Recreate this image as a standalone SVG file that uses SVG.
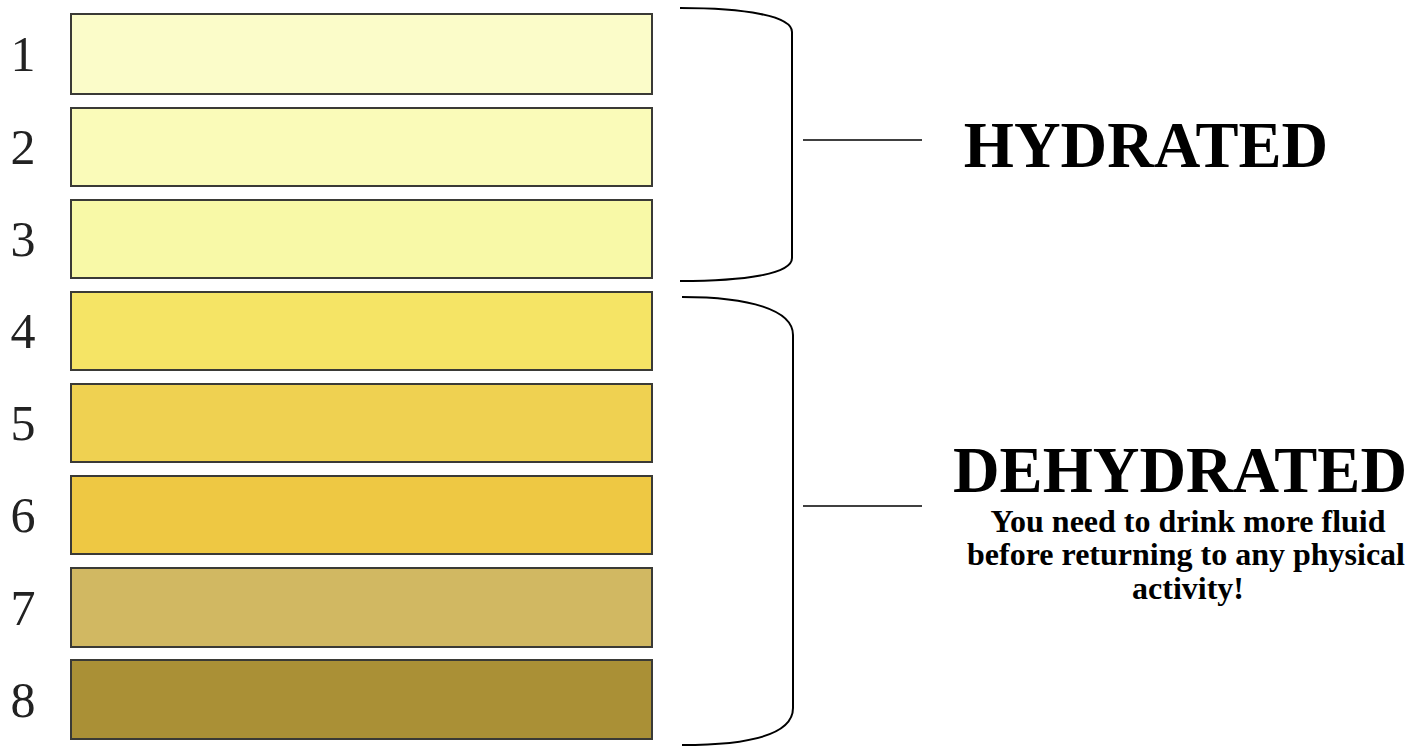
<svg xmlns="http://www.w3.org/2000/svg" width="1424" height="746" viewBox="0 0 1424 746">
  <style>
    .swatch { stroke: #3a3a36; stroke-width: 2; }
    .num { font-family: "Liberation Serif", "Times New Roman", serif; font-size: 50px; fill: #222; text-anchor: middle; }
    .brace { fill: none; stroke: #000; stroke-width: 2; }
    .tick { stroke: #000; stroke-width: 1.6; }
    .head { font-family: "Liberation Serif", "Times New Roman", serif; font-weight: bold; font-size: 64.5px; fill: #000; text-anchor: middle; }
    .note { font-family: "Liberation Serif", "Times New Roman", serif; font-weight: bold; font-size: 32px; fill: #000; text-anchor: middle; }
  </style>
  <rect width="1424" height="746" fill="#fff"/>

  <!-- colour scale, lightest to darkest -->
  <g id="level-1"><rect class="swatch" x="71" y="14" width="581" height="80" fill="#fbfcc9"/><text class="num" x="23" y="71">1</text></g>
  <g id="level-2"><rect class="swatch" x="71" y="108" width="581" height="78" fill="#fafbb9"/><text class="num" x="23" y="164">2</text></g>
  <g id="level-3"><rect class="swatch" x="71" y="200" width="581" height="78" fill="#f8f9a7"/><text class="num" x="23" y="256">3</text></g>
  <g id="level-4"><rect class="swatch" x="71" y="292" width="581" height="78" fill="#f5e465"/><text class="num" x="23" y="348">4</text></g>
  <g id="level-5"><rect class="swatch" x="71" y="384" width="581" height="78" fill="#efd151"/><text class="num" x="23" y="440">5</text></g>
  <g id="level-6"><rect class="swatch" x="71" y="476" width="581" height="78" fill="#eec843"/><text class="num" x="23" y="532">6</text></g>
  <g id="level-7"><rect class="swatch" x="71" y="568" width="581" height="79" fill="#d1b862"/><text class="num" x="23" y="625">7</text></g>
  <g id="level-8"><rect class="swatch" x="71" y="660" width="581" height="79" fill="#aa9036"/><text class="num" x="23" y="717">8</text></g>

  <!-- brackets and leader ticks -->
  <g id="connectors">
    <path class="brace" d="M680,8 C745,8 792,16 792,32 L792,258 C792,274 745,281 680,281"/>
    <line class="tick" x1="803" y1="140" x2="922" y2="140"/>
    <path class="brace" d="M682,297 C750,297 793,310 793,335 L793,708 C793,735 750,745 682,745"/>
    <line class="tick" x1="803" y1="506" x2="922" y2="506"/>
  </g>

  <g id="hydrated">
    <text class="head" x="1146" y="167">HYDRATED</text>
  </g>

  <g id="dehydrated">
    <text class="head" x="1180" y="492">DEHYDRATED</text>
    <text class="note" x="1188" y="532">You need to drink more fluid</text>
    <text class="note" x="1186" y="565">before returning to any physical</text>
    <text class="note" x="1188" y="599">activity!</text>
  </g>
</svg>
